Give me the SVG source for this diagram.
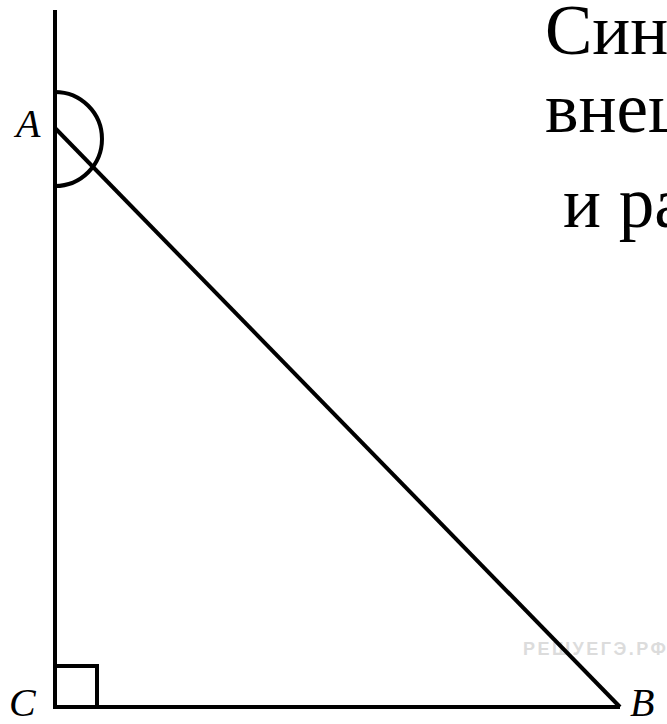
<svg xmlns="http://www.w3.org/2000/svg" width="667" height="724" viewBox="0 0 667 724">
<style>
.ln{stroke:#000;stroke-width:4;fill:none;stroke-linecap:butt;stroke-linejoin:miter}
.lbl{font-family:"Liberation Serif",serif;font-style:italic;font-size:40px;fill:#000}
.txt{font-family:"Liberation Serif",serif;font-size:71px;fill:#000}
.wm{font-family:"Liberation Sans",sans-serif;font-weight:bold;font-size:18px;letter-spacing:2.5px;fill:#dcdcdc}
</style>
<rect width="667" height="724" fill="#fff"/>
<g id="watermark"><text class="wm" x="523" y="655">РЕШУЕГЭ.РФ</text></g>
<g id="connectors">
<line class="ln" x1="55" y1="10" x2="55" y2="709"/>
<line class="ln" x1="53" y1="707" x2="620" y2="707"/>
<line class="ln" x1="55" y1="128" x2="620" y2="707"/>
<path class="ln" d="M55 92 A47 47 0 0 1 55 186"/>
<path class="ln" d="M55 666 H97 V707"/>
</g>
<g id="A"><text class="lbl" x="16" y="137">A</text></g>
<g id="C"><text class="lbl" x="9" y="716">C</text></g>
<g id="B"><text class="lbl" x="630" y="716">B</text></g>
<g id="caption">
<text class="txt" x="545" y="54">Синус</text>
<text class="txt" x="545" y="132">внешнего</text>
<text class="txt" x="563" y="227">и равен</text>
</g>
</svg>
